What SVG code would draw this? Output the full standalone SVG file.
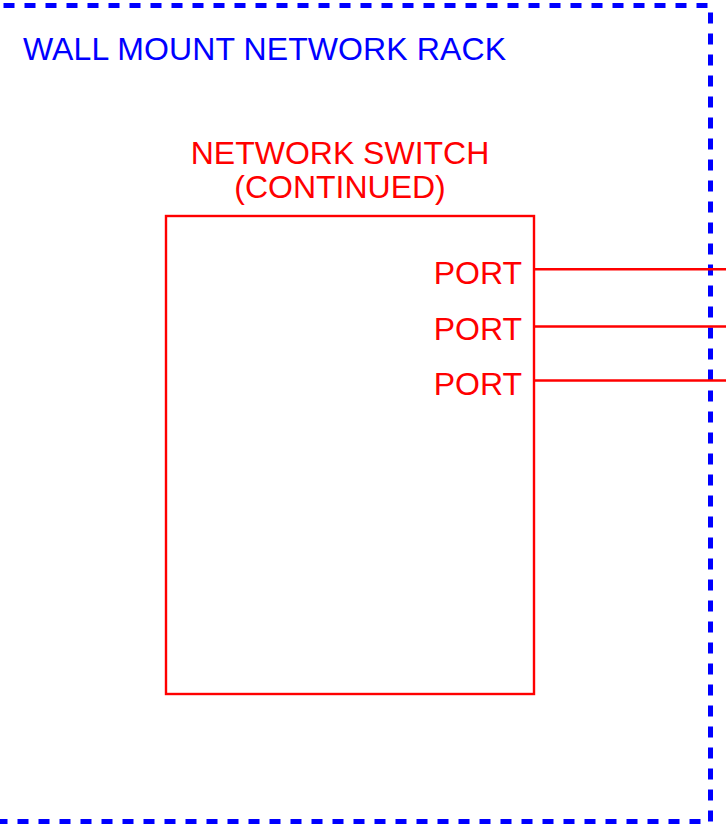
<svg xmlns="http://www.w3.org/2000/svg" width="726" height="824" viewBox="0 0 726 824">
<style>
.rack{fill:none;stroke:#0000ff;stroke-width:5;stroke-dasharray:11 10}
.red{fill:none;stroke:#ff0000;stroke-width:2.4}
text{font-family:"Liberation Sans",Arial,sans-serif;font-size:32px}
.bt{fill:#0000ff}
.rt{fill:#ff0000}
</style>
<rect width="726" height="824" fill="#ffffff"/>
<g id="rack">
<path class="rack" d="M3.5,5.5 H710.5 V821.5 H-20"/>
<text class="bt" x="23" y="60" textLength="483">WALL MOUNT NETWORK RACK</text>
</g>
<g id="switch">
<rect class="red" x="166" y="216" width="368" height="478"/>
<text class="rt" x="340" y="163.5" text-anchor="middle">NETWORK SWITCH</text>
<text class="rt" x="340" y="198" text-anchor="middle">(CONTINUED)</text>
<text class="rt" x="522" y="283.5" text-anchor="end">PORT</text>
<text class="rt" x="522" y="339.5" text-anchor="end">PORT</text>
<text class="rt" x="522" y="395" text-anchor="end">PORT</text>
</g>
<g id="connectors">
<line class="red" x1="534" y1="269.3" x2="726" y2="269.3"/>
<line class="red" x1="534" y1="326.5" x2="726" y2="326.5"/>
<line class="red" x1="534" y1="380.5" x2="726" y2="380.5"/>
</g>
</svg>
